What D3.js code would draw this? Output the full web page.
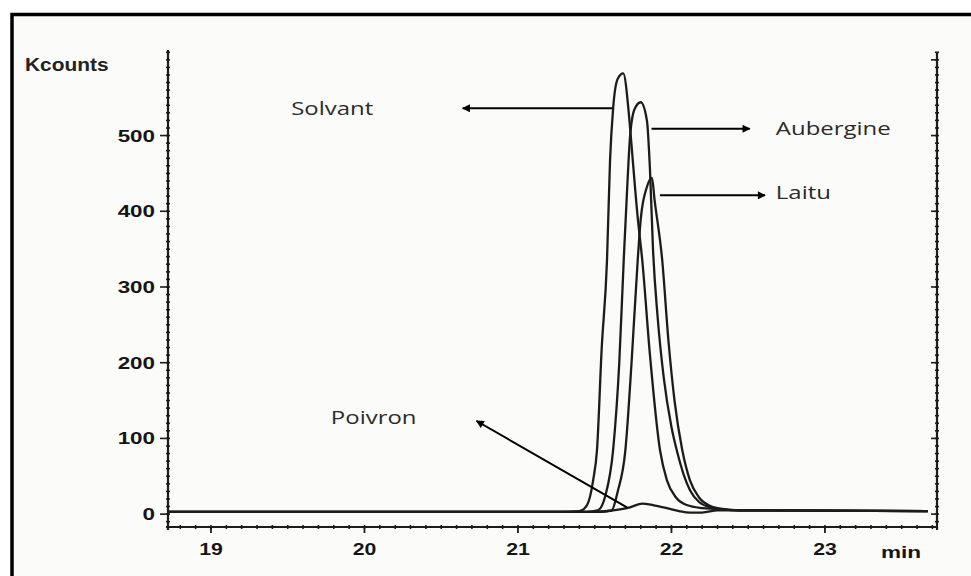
<!DOCTYPE html>
<html>
<head>
<meta charset="utf-8">
<script src="https://cdn.jsdelivr.net/npm/d3@7"></script>
<style>
  html, body { margin: 0; padding: 0; background: #fff; }
  svg { display: block; }
</style>
</head>
<body>
<div id="myChart"></div>
<script>
// values: [time (min), Kcounts]
const solvant = [
  [18.72, 3], [21.3, 3], [21.4, 4], [21.45, 12], [21.49, 45], [21.515, 85],
  [21.545, 217], [21.58, 335], [21.6, 468], [21.62, 536], [21.65, 575],
  [21.686, 582], [21.72, 534], [21.73, 511], [21.78, 392], [21.81, 335],
  [21.86, 210], [21.925, 85], [21.97, 45], [22.03, 22], [22.1, 12],
  [22.2, 8], [22.28, 7], [22.45, 5], [23.67, 4],
];
const aubergine = [
  [18.72, 3], [21.45, 3], [21.52, 5], [21.57, 25], [21.62, 85], [21.66, 200],
  [21.69, 340], [21.71, 424], [21.73, 498], [21.76, 535], [21.8, 544],
  [21.84, 520], [21.86, 455], [21.88, 349], [21.91, 260], [21.95, 180],
  [22.0, 115], [22.04, 80], [22.08, 52], [22.12, 32], [22.18, 16],
  [22.25, 9], [22.3, 7], [22.45, 5], [23.67, 4],
];
const laitu = [
  [18.72, 3], [21.5, 3], [21.61, 5], [21.65, 30], [21.7, 85], [21.74, 200],
  [21.78, 335], [21.8, 390], [21.84, 432], [21.873, 444], [21.89, 415],
  [21.94, 335], [21.98, 230], [22.02, 150], [22.07, 85], [22.12, 45],
  [22.18, 22], [22.25, 11], [22.3, 8], [22.45, 5], [23.67, 4],
];
const poivron = [
  [18.72, 3], [21.45, 3], [21.53, 3], [21.62, 5], [21.73, 9], [21.81, 14],
  [21.88, 12], [21.97, 8], [22.05, 4], [22.12, 2], [22.2, 2], [22.3, 5],
  [22.45, 5], [23.67, 4],
];

const yTicks = [0, 100, 200, 300, 400, 500];
const xTicks = [19, 20, 21, 22, 23];

const width = 971;
const height = 576;
const plot = { left: 168, right: 937, top: 50, bottom: 527 };

const svg = d3
  .select("#myChart")
  .append("svg")
  .attr("width", width)
  .attr("height", height);

// frame of the figure
svg.append("rect")
  .attr("x", 12).attr("y", 14.5)
  .attr("width", width + 10).attr("height", height + 10)
  .attr("fill", "#fbfbf9")
  .attr("stroke", "#000")
  .attr("stroke-width", 3.5);

const x = d3.scaleLinear().domain([18.72, 23.73]).range([plot.left, plot.right]);
const y = d3.scaleLinear().domain([-17, 613]).range([plot.bottom, plot.top]);

const ink = "#1c1c1c";

// arrow head
svg.append("defs")
  .append("marker")
  .attr("id", "head")
  .attr("viewBox", "0 0 10 10")
  .attr("refX", 9).attr("refY", 5)
  .attr("markerWidth", 9).attr("markerHeight", 8)
  .attr("markerUnits", "userSpaceOnUse")
  .attr("orient", "auto")
  .append("path")
  .attr("d", "M0,0 L10,5 L0,10 Z")
  .attr("fill", "#000");

// axes: left, right, bottom
const minorY = d3.range(-10, 611, 10);
const minorX = d3.range(18.8, 23.71, 0.1);

const axes = svg.append("g").attr("stroke", ink).attr("fill", "none");
axes.append("line")
  .attr("x1", plot.left).attr("x2", plot.left)
  .attr("y1", plot.top).attr("y2", plot.bottom + 3)
  .attr("stroke-width", 2.2);
axes.append("line")
  .attr("x1", plot.right).attr("x2", plot.right)
  .attr("y1", plot.top + 2).attr("y2", plot.bottom + 3)
  .attr("stroke-width", 2.2);
axes.append("line")
  .attr("x1", plot.left - 2).attr("x2", plot.right + 1)
  .attr("y1", plot.bottom).attr("y2", plot.bottom)
  .attr("stroke-width", 2.2);

// minor ticks (give the dotted look of the axes)
[plot.left, plot.right].forEach((ax) => {
  axes.selectAll(null)
    .data(minorY)
    .enter()
    .append("line")
    .attr("x1", ax - 2).attr("x2", ax + 2)
    .attr("y1", (d) => y(d)).attr("y2", (d) => y(d))
    .attr("stroke-width", 1.6);
});
axes.selectAll(null)
  .data(minorX)
  .enter()
  .append("line")
  .attr("x1", (d) => x(d)).attr("x2", (d) => x(d))
  .attr("y1", plot.bottom - 2).attr("y2", plot.bottom + 2)
  .attr("stroke-width", 1.6);

// major ticks
axes.selectAll(null)
  .data(yTicks)
  .enter()
  .append("line")
  .attr("x1", plot.left - 8).attr("x2", plot.left)
  .attr("y1", (d) => y(d)).attr("y2", (d) => y(d))
  .attr("stroke-width", 1.6);
axes.selectAll(null)
  .data(yTicks.concat([600]))
  .enter()
  .append("line")
  .attr("x1", plot.right - 6).attr("x2", plot.right)
  .attr("y1", (d) => y(d)).attr("y2", (d) => y(d))
  .attr("stroke-width", 1.6);
axes.selectAll(null)
  .data(xTicks)
  .enter()
  .append("line")
  .attr("x1", (d) => x(d)).attr("x2", (d) => x(d))
  .attr("y1", plot.bottom).attr("y2", plot.bottom + 6)
  .attr("stroke-width", 1.8);

// tick labels (the picture is stretched sideways, so the text is too)
const numFont = "'Liberation Sans', Arial, sans-serif";
svg.selectAll(".ylab")
  .data(yTicks)
  .enter()
  .append("text")
  .attr("class", "ylab")
  .attr("transform", (d) => `translate(155, ${y(d) + 6}) scale(1.4, 1)`)
  .attr("text-anchor", "end")
  .attr("font-family", numFont)
  .attr("font-weight", "bold")
  .attr("font-size", 16)
  .attr("fill", "#151515")
  .text((d) => d);

svg.selectAll(".xlab")
  .data(xTicks)
  .enter()
  .append("text")
  .attr("class", "xlab")
  .attr("transform", (d) => `translate(${x(d)}, 555) scale(1.25, 1)`)
  .attr("text-anchor", "middle")
  .attr("font-family", numFont)
  .attr("font-weight", "bold")
  .attr("font-size", 17)
  .attr("fill", "#151515")
  .text((d) => d);

svg.append("text")
  .attr("transform", "translate(901, 558) scale(1.33, 1)")
  .attr("text-anchor", "middle")
  .attr("font-family", numFont)
  .attr("font-weight", "bold")
  .attr("font-size", 17)
  .attr("fill", "#151515")
  .text("min");

svg.append("text")
  .attr("transform", "translate(25, 71) scale(1.1, 1)")
  .attr("font-family", numFont)
  .attr("font-weight", "bold")
  .attr("font-size", 19)
  .attr("fill", "#222")
  .text("Kcounts");

// chromatogram traces
const line = d3
  .line()
  .x((d) => x(d[0]))
  .y((d) => y(d[1]))
  .curve(d3.curveMonotoneX);

svg.append("g")
  .selectAll("path")
  .data([poivron, laitu, aubergine, solvant])
  .enter()
  .append("path")
  .attr("d", line)
  .attr("fill", "none")
  .attr("stroke", ink)
  .attr("stroke-width", 2.3)
  .attr("stroke-linejoin", "round");

// labels with their arrows, in data units
const notes = [
  { name: "Solvant", tx: 19.79, tv: 536, anchor: "middle", from: [21.615, 536], to: [20.64, 536] },
  { name: "Aubergine", tx: 22.68, tv: 510, anchor: "start", from: [21.87, 509], to: [22.51, 509] },
  { name: "Laitu", tx: 22.68, tv: 425, anchor: "start", from: [21.925, 421], to: [22.61, 421] },
  { name: "Poivron", tx: 20.06, tv: 128, anchor: "middle", from: [21.71, 9], to: [20.73, 123] },
];

svg.append("g")
  .selectAll("line")
  .data(notes)
  .enter()
  .append("line")
  .attr("x1", (d) => x(d.from[0])).attr("y1", (d) => y(d.from[1]))
  .attr("x2", (d) => x(d.to[0])).attr("y2", (d) => y(d.to[1]))
  .attr("stroke", "#000")
  .attr("stroke-width", 2)
  .attr("marker-end", "url(#head)");

svg.append("g")
  .selectAll("text")
  .data(notes)
  .enter()
  .append("text")
  .attr("transform", (d) => `translate(${x(d.tx)}, ${y(d.tv) + 7}) scale(1.26, 1)`)
  .attr("text-anchor", (d) => d.anchor)
  .attr("font-family", "'Open Sans', sans-serif")
  .attr("font-size", 19)
  .attr("fill", "#2a2a2a")
  .text((d) => d.name);
</script>
</body>
</html>
